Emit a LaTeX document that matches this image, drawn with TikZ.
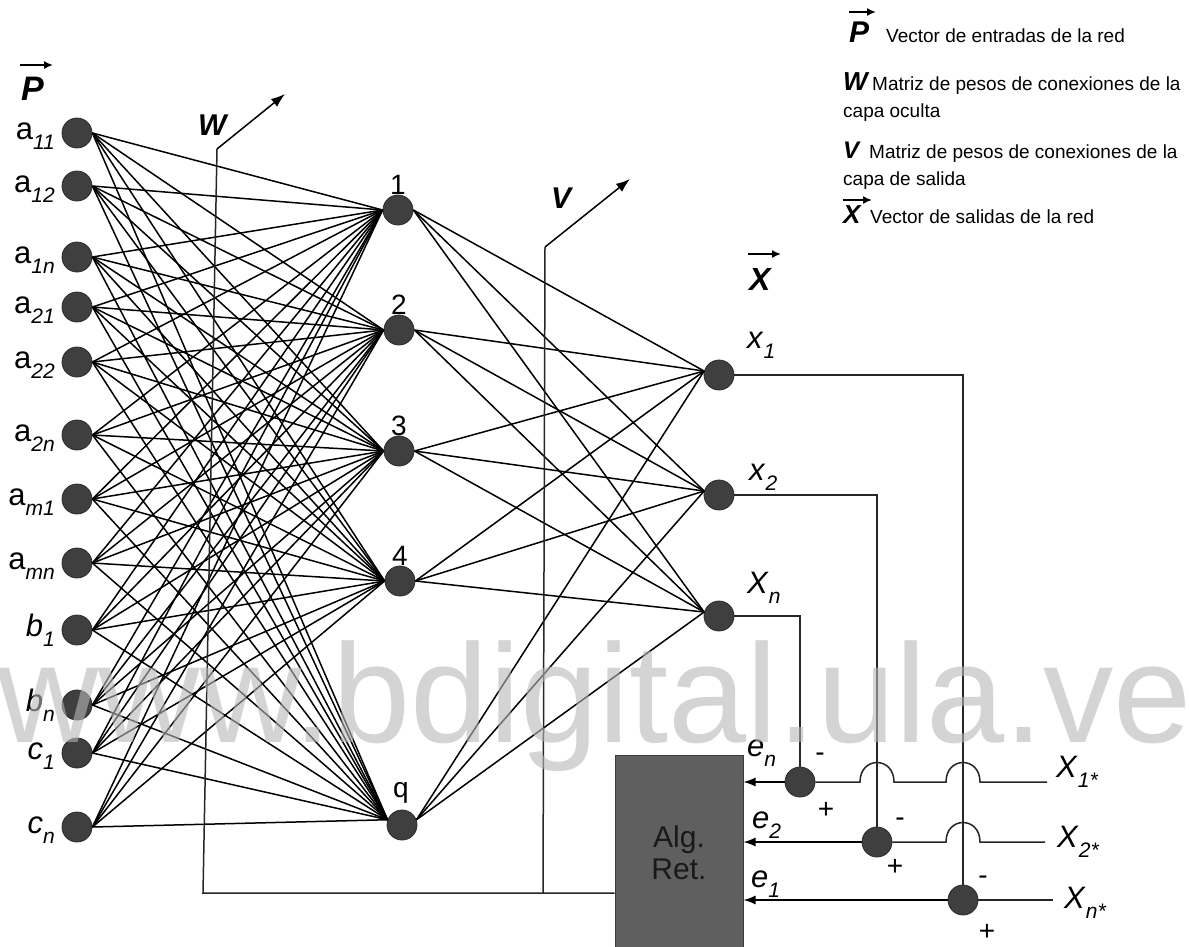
\documentclass[tikz,border=0pt]{standalone}
\usepackage{fontspec}
\setmainfont{Liberation Sans}
\usetikzlibrary{arrows.meta}
\definecolor{neuron}{HTML}{3F3F3F}
\definecolor{neuronrim}{HTML}{2C2C2C}
\definecolor{algfill}{HTML}{5F5F5F}
\definecolor{algrim}{HTML}{3A3A3A}
\definecolor{wmark}{HTML}{B8B8B8}
\newcommand\fs[1]{\fontsize{#1}{#1}\selectfont}
\newcommand\sbs[1]{\raisebox{-10pt}{\fs{21}\itshape #1}}
\begin{document}
\begin{tikzpicture}[x=1pt,y=-1pt,
  neur/.style={circle,fill=neuron,draw=neuronrim,line width=0.8pt,minimum size=30pt,inner sep=0pt},
  conn/.style={line width=1.5pt,black},
  wire/.style={line width=1.5pt,black!85},
  pointer/.style={line width=1.5pt,-{Latex[length=14pt,width=10pt]}},
  feed/.style={line width=1.4pt,-{Latex[length=12pt,width=9pt]}},
  vecarr/.style={line width=1.6pt,-{Latex[length=9pt,width=8pt]}},
  lab/.style={inner sep=0pt,font=\fs{31}},
  hlab/.style={inner sep=0pt,font=\fs{28}},
  sign/.style={inner sep=0pt,font=\fs{28}},
  bigsym/.style={inner sep=0pt,font=\fs{32}\bfseries\itshape},
  legsym/.style={inner sep=0pt,font=\fs{26}\bfseries\itshape},
  legtxt/.style={inner sep=0pt,font=\fs{19}},
]
\clip (0,0) rectangle (1189,946);
\fill[white] (0,0) rectangle (1189,946);

% input layer
\foreach \n/\y/\t in {a11/133/{a\sbs{11}}, a12/186/{a\sbs{12}}, a1n/257/{a\sbs{1n}},
                      a21/307/{a\sbs{21}}, a22/362/{a\sbs{22}}, a2n/435/{a\sbs{2n}},
                      am1/499/{a\sbs{m1}}, amn/563/{a\sbs{mn}}, b1/630/{\textit{b}\sbs{1}},
                      bn/705/{\textit{b}\sbs{n}}, c1/753/{\textit{c}\sbs{1}}, cn/827/{\textit{c}\sbs{n}}}{
  \node[neur] (\n) at (77,\y) {};
  \node[lab,anchor=base east] (l\n) at (55,{\y+6}) {\t};
}

% hidden layer
\foreach \n/\x/\y/\t in {h1/398/210/1, h2/399/330/2, h3/399/451/3, h4/400/581/4}{
  \node[neur] (\n) at (\x,\y) {};
  \node[hlab,anchor=base] (l\n) at (\x,{\y-16}) {\t};
}
\node[neur] (hq) at (402,825) {};
\node[hlab,anchor=base] (lhq) at (401,797) {q};

% output layer
\node[neur] (o1) at (719,375) {};
\node[neur] (o2) at (719,495) {};
\node[neur] (on) at (719,616) {};
\node[lab,anchor=base west] (lo1) at (747,348) {\textit{x}\sbs{1}};
\node[lab,anchor=base west] (lo2) at (749,480) {\textit{x}\sbs{2}};
\node[lab,anchor=base west] (lon) at (747,593) {\textit{X}\sbs{n}};

% weights input -> hidden
\foreach \i in {a11,a12,a1n,a21,a22,a2n,am1,amn,b1,bn,c1,cn}{
  \foreach \h in {h1,h2,h3,h4}{\draw[conn] (\i.east) -- (\h.west);}
  \draw[conn] (\i.east) -- (hq.160);
}
% weights hidden -> output
\foreach \o in {o1,o2,on}{
  \foreach \h in {h1,h2,h3,h4}{\draw[conn] (\h.east) -- (\o.165);}
  \draw[conn] (hq.20) -- (\o.165);
}

% weight matrix pointers
\coordinate (wb) at (203,893);
\coordinate (wt) at (217,149);
\coordinate (wtip) at (285,94);
\coordinate (vb) at (543,893);
\coordinate (vt) at (545,247);
\coordinate (vtip) at (630,179);
\node[bigsym,font=\fs{30}\bfseries\itshape,anchor=base west] (wlab) at (198,135) {W};
\node[bigsym,font=\fs{30}\bfseries\itshape,anchor=base west] (vlab) at (551,208) {V};

% training block
\node[fill=algfill,draw=algrim,line width=1pt,minimum width=128pt,minimum height=210pt,inner sep=0pt]
  (alg) at (679,860) {};
\node[inner sep=0pt,font=\fs{30},align=center,text=black!90] (algtxt) at (679,853) {Alg.\\[2pt]Ret.};

\draw[wire] (alg.west |- wb) -- (wb) -- (wt);
\draw[pointer] (wt) -- (wtip);
\draw[wire] (vb) -- (vt);
\draw[pointer] (vt) -- (vtip);

% error junctions
\node[neur] (jn) at (800,782) {};
\node[neur] (j2) at (877,842) {};
\node[neur] (j1) at (963,900) {};

\draw[wire] (on.east) -| (jn.north);
\draw[wire] (o2.east) -| (j2.north);
\draw[wire] (o1.east) -| (j1.north);

\coordinate (x1s) at (1047,782);
\coordinate (x2s) at (1045,842);
\coordinate (xns) at (1053,900);
\draw[wire] (jn.east) -- (860,782) .. controls (860,756) and (894,756) .. (894,782)
  -- (946,782) .. controls (946,756) and (980,756) .. (980,782) -- (x1s);
\draw[wire] (j2.east) -- (946,842) .. controls (946,816) and (980,816) .. (980,842) -- (x2s);
\draw[wire] (j1.east) -- (xns);

\draw[feed] (jn.west) -- (alg.east |- jn);
\draw[feed] (j2.west) -- (alg.east |- j2);
\draw[feed] (j1.west) -- (alg.east |- j1);

\node[lab,anchor=base west] (len) at (747,756) {\textit{e}\sbs{n}};
\node[lab,anchor=base west] (le2) at (752,828) {\textit{e}\sbs{2}};
\node[lab,anchor=base west] (le1) at (751,887) {\textit{e}\sbs{1}};

\node[sign] (mn) at (820,757) {-};
\node[sign] (pn) at (826,810) {+};
\node[sign] (m2) at (900,822) {-};
\node[sign] (p2) at (895,867) {+};
\node[sign] (m1) at (983,880) {-};
\node[sign] (p1) at (987,932) {+};

\node[lab,anchor=base west] (lx1s) at (1056,777) {\textit{X}\sbs{1*}};
\node[lab,anchor=base west] (lx2s) at (1057,847) {\textit{X}\sbs{2*}};
\node[lab,anchor=base west] (lxns) at (1064,908) {\textit{X}\sbs{n*}};

% vector symbols on the network
\node[bigsym,font=\fs{34}\bfseries\itshape,anchor=base west] (pvec) at (21,100) {P};
\draw[vecarr] (20,65) -- (53,65);
\node[bigsym,anchor=base west] (xvec) at (749,290) {X};
\draw[vecarr] (748,254) -- (781,254);

% legend
\node[legsym,font=\fs{30}\bfseries\itshape,anchor=base west] (gp) at (849,42) {P};
\draw[vecarr] (849,12) -- (876,12);
\node[legtxt,anchor=base west] (gpt) at (886,42) {Vector de entradas de la red};
\node[legsym,anchor=base west] (gw) at (843,90) {W};
\node[legtxt,anchor=base west] (gwt) at (872,90) {Matriz de pesos de conexiones de la};
\node[legtxt,anchor=base west] (gwt2) at (843,117) {capa oculta};
\node[legsym,font=\fs{24}\bfseries\itshape,anchor=base west] (gv) at (843,158) {V};
\node[legtxt,anchor=base west] (gvt) at (869,158) {Matriz de pesos de conexiones de la};
\node[legtxt,anchor=base west] (gvt2) at (843,185) {capa de salida};
\node[legsym,anchor=base west] (gx) at (843,223) {X};
\draw[vecarr] (843,200) -- (872,200);
\node[legtxt,anchor=base west] (gxt) at (870,223) {Vector de salidas de la red};

% site mark
\node[inner sep=0pt,anchor=base west,text=wmark,opacity=0.6,font=\fs{140.5}] (site) at (-3,742) {www.bdigital.ula.ve};
\end{tikzpicture}
\end{document}
